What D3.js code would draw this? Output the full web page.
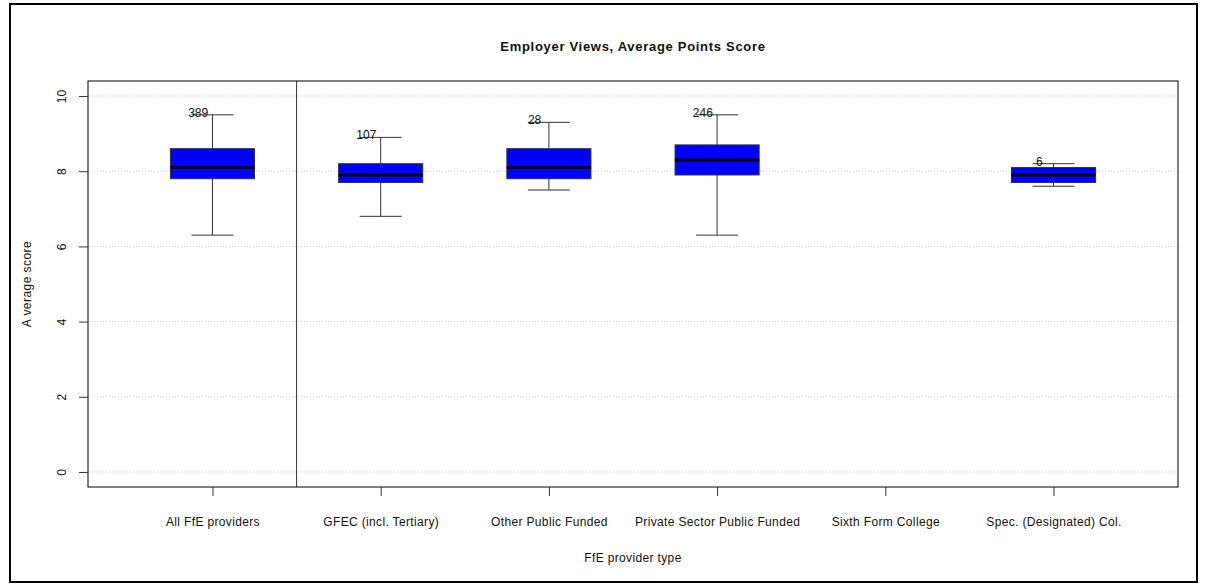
<!DOCTYPE html>
<html>
<head>
<meta charset="utf-8">
<script src="https://cdn.jsdelivr.net/npm/d3@7"></script>
<style>
  html, body { margin: 0; padding: 0; background: #fff; }
  svg { display: block; font-family: "Liberation Sans", Arial, sans-serif; }
</style>
</head>
<body>
<svg id="chart" width="1205" height="584"></svg>
<script>
// ---- data ----
const categories = ["All FfE providers", "GFEC (incl. Tertiary)", "Other Public Funded",
                    "Private Sector Public Funded", "Sixth Form College", "Spec. (Designated) Col."];
const lowerWhisker = [6.3, 6.8, 7.5, 6.3, null, 7.6];
const q1Values     = [7.8, 7.7, 7.8, 7.9, null, 7.7];
const medianValues = [8.1, 7.9, 8.1, 8.3, null, 7.9];
const q3Values     = [8.6, 8.2, 8.6, 8.7, null, 8.1];
const upperWhisker = [9.5, 8.9, 9.3, 9.5, null, 8.2];
const countLabels  = ["389", "107", "28", "246", null, "6"];
const yTicks = [0, 2, 4, 6, 8, 10];
const title = "Employer Views, Average Points Score";
const xTitle = "FfE provider type";
const yTitle = "A verage score";

// ---- layout ----
const svg = d3.select("#chart");
const plot = { left: 88, right: 1178, top: 81, bottom: 487 };

const x = d3.scaleLinear().domain([0.26, 6.74]).range([plot.left, plot.right]);
const y = d3.scaleLinear().domain([-0.4, 10.4]).range([plot.bottom, plot.top]);

// outer frame
svg.append("rect").attr("x", 10).attr("y", 4).attr("width", 1187).attr("height", 578)
  .attr("fill", "none").attr("stroke", "#000").attr("stroke-width", 2);

// gridlines
svg.append("g").selectAll("line").data(yTicks).join("line")
  .attr("x1", plot.left).attr("x2", plot.right)
  .attr("y1", d => y(d)).attr("y2", d => y(d))
  .attr("stroke", "#d0d0d0").attr("stroke-width", 1).attr("stroke-dasharray", "1,2");

// separator line at 1.5
svg.append("line").attr("x1", x(1.5)).attr("x2", x(1.5))
  .attr("y1", plot.top).attr("y2", plot.bottom)
  .attr("stroke", "#333").attr("stroke-width", 1);

// boxes
const data = categories.map((c, i) => ({
  pos: i + 1, lo: lowerWhisker[i], q1: q1Values[i], med: medianValues[i],
  q3: q3Values[i], hi: upperWhisker[i], n: countLabels[i]
})).filter(d => d.med !== null);

const g = svg.append("g");
const boxHalf = 0.25, capHalf = 0.125;
data.forEach(d => {
  g.append("line").attr("x1", x(d.pos)).attr("x2", x(d.pos))
    .attr("y1", y(d.hi)).attr("y2", y(d.q3)).attr("stroke", "#333");
  g.append("line").attr("x1", x(d.pos)).attr("x2", x(d.pos))
    .attr("y1", y(d.q1)).attr("y2", y(d.lo)).attr("stroke", "#333");
  [d.hi, d.lo].forEach(v => {
    g.append("line").attr("x1", x(d.pos - capHalf)).attr("x2", x(d.pos + capHalf))
      .attr("y1", y(v)).attr("y2", y(v)).attr("stroke", "#333");
  });
  g.append("rect").attr("x", x(d.pos - boxHalf)).attr("y", y(d.q3))
    .attr("width", x(d.pos + boxHalf) - x(d.pos - boxHalf))
    .attr("height", y(d.q1) - y(d.q3))
    .attr("fill", "#0000ff").attr("stroke", "#333").attr("stroke-width", 1);
  g.append("line").attr("x1", x(d.pos - boxHalf)).attr("x2", x(d.pos + boxHalf))
    .attr("y1", y(d.med)).attr("y2", y(d.med)).attr("stroke", "#000").attr("stroke-width", 3);
  g.append("text").attr("x", x(d.pos - 0.085)).attr("y", y(d.hi) - 2)
    .attr("text-anchor", "middle").attr("dominant-baseline", "central")
    .attr("font-size", 12).attr("fill", "#111").text(d.n);
});

// plot box
svg.append("rect").attr("x", plot.left).attr("y", plot.top)
  .attr("width", plot.right - plot.left).attr("height", plot.bottom - plot.top)
  .attr("fill", "none").attr("stroke", "#000").attr("stroke-width", 1);

// y axis
const yAxis = d3.axisLeft(y).tickValues(yTicks).tickSize(9).tickPadding(0).tickFormat(d3.format("d"));
const ya = svg.append("g").attr("transform", `translate(${plot.left},0)`).call(yAxis);
ya.select(".domain").remove();
ya.selectAll(".tick line").attr("stroke", "#333");
ya.selectAll(".tick text")
  .attr("x", 0).attr("dy", null).attr("text-anchor", "middle")
  .attr("font-size", 12).attr("font-family", "Liberation Sans, Arial, sans-serif").attr("fill", "#111")
  .attr("transform", `translate(${61.7 - plot.left},0) rotate(-90)`)
  .attr("dominant-baseline", "central");

// x axis
const xAxis = d3.axisBottom(x).tickValues(categories.map((c, i) => i + 1))
  .tickSize(9).tickPadding(0).tickFormat((d, i) => categories[i]);
const xa = svg.append("g").attr("transform", `translate(0,${plot.bottom})`).call(xAxis);
xa.select(".domain").remove();
xa.selectAll(".tick line").attr("stroke", "#333");
xa.selectAll(".tick text").attr("y", 522 - plot.bottom).attr("dy", null)
  .attr("dominant-baseline", "central").attr("letter-spacing", 0.35)
  .attr("font-size", 12).attr("font-family", "Liberation Sans, Arial, sans-serif").attr("fill", "#111");

// titles
svg.append("text").attr("x", (plot.left + plot.right) / 2).attr("y", 46)
  .attr("text-anchor", "middle").attr("dominant-baseline", "central")
  .attr("font-weight", "bold").attr("font-size", 13).attr("letter-spacing", 0.7)
  .attr("fill", "#111").text(title);
svg.append("text").attr("x", (plot.left + plot.right) / 2).attr("y", 558)
  .attr("text-anchor", "middle").attr("dominant-baseline", "central")
  .attr("font-size", 12).attr("letter-spacing", 0.35).attr("fill", "#111").text(xTitle);
svg.append("text").attr("transform", `translate(27,${(plot.top + plot.bottom) / 2}) rotate(-90)`)
  .attr("text-anchor", "middle").attr("dominant-baseline", "central")
  .attr("font-size", 12).attr("letter-spacing", 0.45).attr("fill", "#111").text(yTitle);
</script>
</body>
</html>
